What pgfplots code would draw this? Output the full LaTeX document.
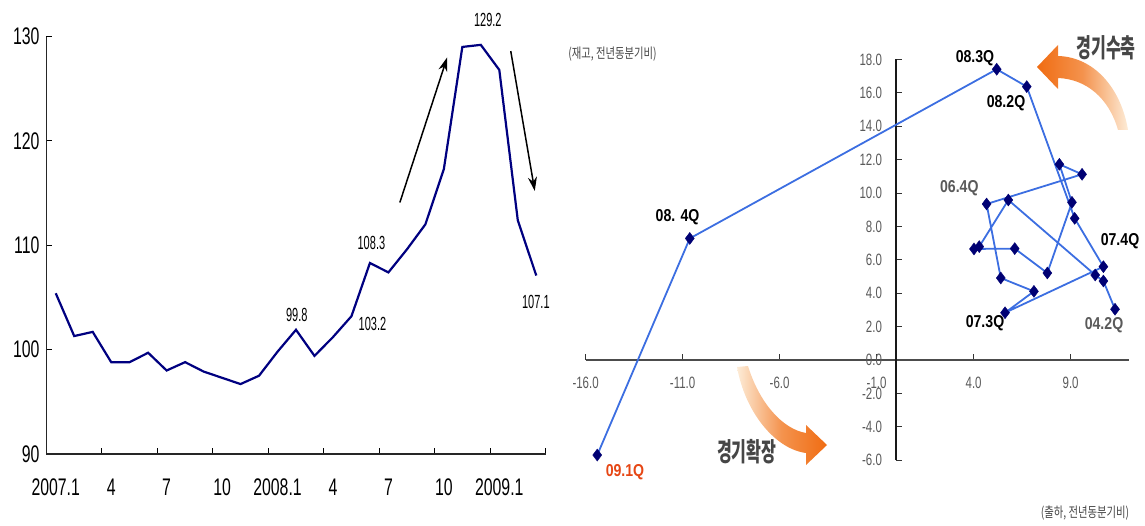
\documentclass[border=0pt]{standalone}
\usepackage{fontspec}
\setmainfont{Liberation Sans}
\newfontfamily\narrow[FakeStretch=0.66]{Liberation Sans}
\newfontfamily\narrowc[FakeStretch=0.58]{Liberation Sans}
\newfontfamily\narrowt[FakeStretch=0.70]{Liberation Sans}
\newfontfamily\narrowb[FakeStretch=0.82]{Liberation Sans}
\newfontfamily\kr[FakeStretch=0.62]{Noto Sans CJK KR}
\newfontfamily\krs[FakeStretch=0.74]{Noto Sans CJK KR}
\usepackage{pgfplots}
\pgfplotsset{compat=1.18}
\usepgfplotslibrary{}
\usepackage{pgfplotstable}
\usetikzlibrary{arrows.meta}

\definecolor{navyline}{RGB}{0,0,128}
\definecolor{pathblue}{RGB}{60,110,225}
\definecolor{marknavy}{RGB}{0,0,115}
\definecolor{arrorange}{RGB}{240,108,18}
\definecolor{arrlight}{RGB}{253,236,215}
\definecolor{labgray}{RGB}{90,90,90}
\definecolor{kgray}{RGB}{70,70,70}
\definecolor{qred}{RGB}{230,70,20}

% monthly index, 2007.1 (idx 0) to 2009.3 (idx 26)
\pgfplotstableread{
idx val
0 105.4
1 101.3
2 101.7
3 98.8
4 98.8
5 99.7
6 98.0
7 98.8
8 97.9
9 97.3
10 96.7
11 97.5
12 99.8
13 101.9
14 99.4
15 101.2
16 103.2
17 108.3
18 107.4
19 109.6
20 112.0
21 117.3
22 129.0
23 129.2
24 126.8
25 112.4
26 107.1
}\monthly

% shipments (x) vs inventory (y), year-on-year, quarterly path
\pgfplotstableread{
x y
11.29 3.04
10.69 4.73
10.27 5.09
5.79 9.58
4.29 6.79
4.02 6.65
6.12 6.67
7.80 5.21
9.07 9.44
8.42 11.72
9.59 11.12
4.67 9.34
5.40 4.91
7.11 4.11
5.62 2.83
10.69 5.59
9.21 8.48
6.74 16.37
5.19 17.41
-10.63 7.28
-15.40 -5.69
}\cycle

\begin{document}
\begin{tikzpicture}
\useasboundingbox (0,0) rectangle (572.5pt,262.5pt);

% ---------- left panel: index line ----------
\begin{axis}[
  at={(23.25pt,35.5pt)}, anchor=south west,
  scale only axis, width=249.5pt, height=208.75pt,
  xmin=-0.5, xmax=26.5, ymin=90, ymax=130,
  enlargelimits=false, clip=false,
  axis lines=left, axis line style={-, black!85, line width=0.6pt},
  tick align=inside, major tick length=3pt,
  tick style={black, line width=0.5pt},
  xtick={2.5,5.5,...,26.5}, xticklabels={},
  extra x ticks={0,3,6,9,12,15,18,21,24},
  extra x tick labels={2007.1,4,7,10,2008.1,4,7,10,2009.1},
  extra x tick style={major tick length=0pt,
    tick label style={font=\narrow\fontsize{12}{12}\selectfont, yshift=-9pt}},
  ytick={90,100,110,120,130},
  yticklabels={90,100,110,120,130},
  yticklabel style={font=\narrow\fontsize{12}{12}\selectfont},
]
\addplot[navyline, line width=1.1pt, mark=none] table[x=idx,y=val]{\monthly};
\draw[-{Stealth[length=7pt,width=4.5pt]}, line width=0.75pt] (18.62,114.1) -- (21.18,128.0);
\draw[-{Stealth[length=7pt,width=4.5pt]}, line width=0.75pt] (24.62,128.6) -- (25.92,115.2);
\begin{scope}[every node/.style={font=\narrowc\fontsize{9.5}{9.5}\selectfont}]
\node at (23.38,131.6) {129.2};
\node at (17.08,110.2) {108.3};
\node at (17.14,102.5) {103.2};
\node at (13.04,103.3) {99.8};
\node at (25.98,104.6) {107.1};
\end{scope}
\end{axis}

% ---------- right panel: shipment-inventory cycle ----------
\begin{axis}[
  at={(292.8pt,32.4pt)}, anchor=south west,
  scale only axis, width=271.6pt, height=200.4pt,
  xmin=-16, xmax=12, ymin=-6, ymax=18,
  enlargelimits=false, clip=false,
  axis lines=middle, axis line style={-, line width=0.6pt},
  x axis line style={black!70},
  y axis line style={black!90},
  hide obscured x ticks=false, hide obscured y ticks=false,
  tick align=inside, major tick length=3pt,
  tick style={black!80, line width=0.5pt},
  xtick={-16,-11,-6,-1,4,9},
  xticklabels={-16.0,-11.0,-6.0,-1.0,4.0,9.0},
  ytick={-6,-4,-2,0,2,4,6,8,10,12,14,16,18},
  yticklabels={-6.0,-4.0,-2.0,0.0,2.0,4.0,6.0,8.0,10.0,12.0,14.0,16.0,18.0},
  xticklabel style={font=\narrowt\fontsize{8.2}{8.2}\selectfont, text=labgray, yshift=-5pt},
  yticklabel style={font=\narrowt\fontsize{8.2}{8.2}\selectfont, text=labgray, xshift=-3.5pt},
]
\addplot[pathblue, line width=0.9pt, mark=diamond*, mark size=3pt,
  mark options={solid, draw=marknavy, fill=marknavy, line width=0.2pt}]
  table[x=x,y=y]{\cycle};
\end{axis}

% ---------- annotations ----------
\begin{scope}[shift={(0pt,262.5pt)}, x=0.5pt, y=-0.5pt]
  % contraction arrow (upper right)
  \shade[left color=arrorange, right color=arrlight, middle color=arrorange!70!arrlight]
    (1128,130) .. controls (1121,88) and (1094,57) .. (1058,56)
    -- (1058,45) -- (1037,67) -- (1058,89) -- (1058,78)
    .. controls (1086,79) and (1109,98) .. (1118,130) -- cycle;
  % expansion arrow (lower middle)
  \shade[left color=arrlight, right color=arrorange, middle color=arrorange!70!arrlight]
    (737,367) .. controls (745,412) and (775,449) .. (806,453)
    -- (806,465) -- (827,445) -- (806,425) -- (806,433)
    .. controls (782,429) and (759,402) .. (748,366) -- cycle;

  \node[font=\kr\bfseries\fontsize{13}{13}\selectfont, text=kgray] at (1106,47.5) {경기수축};
  \node[font=\kr\bfseries\fontsize{13}{13}\selectfont, text=kgray] at (746.7,451.7) {경기확장};

  \node[font=\krs\fontsize{7}{7}\selectfont, text=kgray] at (612.5,54.3) {(재고, 전년동분기비)};
  \node[font=\krs\fontsize{7}{7}\selectfont, text=kgray] at (1085,513) {(출하, 전년동분기비)};

  \begin{scope}[every node/.style={font=\narrowb\bfseries\fontsize{8.6}{8.6}\selectfont}]
    \node at (975,58.3) {08.3Q};
    \node at (1006,102.7) {08.2Q};
    \node[text=labgray] at (959.3,188.3) {06.4Q};
    \node at (1120,241) {07.4Q};
    \node at (985,322.7) {07.3Q};
    \node[text=labgray] at (1104,325) {04.2Q};
    \node at (677.5,217.3) {08. 4Q};
    \node[text=qred] at (625,471.7) {09.1Q};
  \end{scope}
\end{scope}
\end{tikzpicture}
\end{document}
